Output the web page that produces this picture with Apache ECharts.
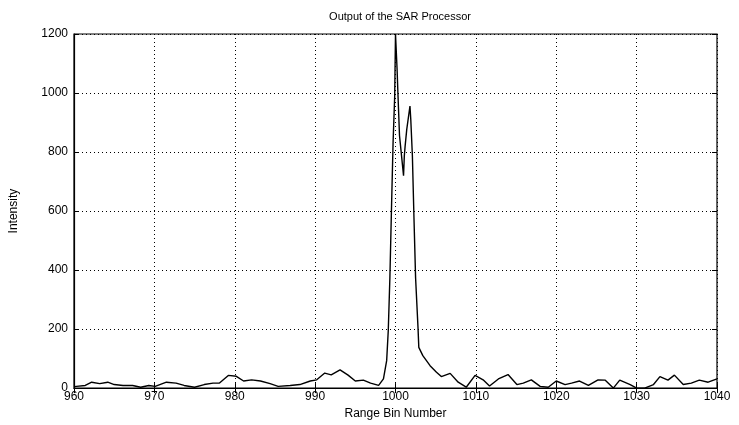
<!DOCTYPE html>
<html>
<head>
<meta charset="utf-8">
<script src="https://cdn.jsdelivr.net/npm/echarts@6/dist/echarts.min.js"></script>
<style>html,body{margin:0;padding:0;background:#fff}#c{width:739px;height:425px}</style>
</head>
<body>
<div id="c"></div>
<script>
const title = "Output of the SAR Processor";
const xName = "Range Bin Number";
const yName = "Intensity";
const xTicks = [960, 970, 980, 990, 1000, 1010, 1020, 1030, 1040];
const yTicks = [0, 200, 400, 600, 800, 1000, 1200];
const bins = [960, 960.3, 961.4, 962.2, 963.2, 964.2, 965.0, 966.1, 967.3, 968.3, 969.3, 970.1, 971.5, 972.7, 973.7, 975.0, 976.2, 977.3, 978.1, 979.2, 980.2, 981.1, 982.1, 983.2, 984.4, 985.4, 986.9, 988.1, 989.4, 990.2, 991.2, 992.0, 993.1, 994.1, 995.0, 996.0, 996.9, 997.9, 998.5, 998.9, 999.1, 999.3, 999.5, 999.7, 999.9, 1000.0, 1000.2, 1000.3, 1000.5, 1001.0, 1001.1, 1001.2, 1001.4, 1001.8, 1001.9, 1002.1, 1002.3, 1002.5, 1002.8, 1002.9, 1003.4, 1004.3, 1005.1, 1005.7, 1006.8, 1007.8, 1008.8, 1009.9, 1010.9, 1011.7, 1012.8, 1014.0, 1015.1, 1015.9, 1016.9, 1018.0, 1019.0, 1020.0, 1021.1, 1021.9, 1022.9, 1024.0, 1025.2, 1026.1, 1027.1, 1027.9, 1029.2, 1030.0, 1031.0, 1032.1, 1032.9, 1033.9, 1034.7, 1035.8, 1036.8, 1037.8, 1038.9, 1040];
const intensity = [5, 6, 9, 20, 15, 20, 12, 9, 9, 3, 9, 6, 20, 17, 9, 3, 12, 17, 17, 43, 40, 24, 28, 24, 15, 6, 9, 12, 24, 28, 51, 45, 62, 44, 24, 27, 17, 9, 31, 93, 195, 373, 608, 834, 989, 1200, 1079, 1000, 855, 720, 788, 821, 877, 956, 911, 788, 575, 373, 205, 138, 110, 76, 54, 39, 50, 20, 3, 43, 28, 7, 31, 46, 12, 17, 28, 6, 3, 24, 12, 17, 24, 9, 28, 27, 0, 27, 12, 0, 0, 12, 39, 27, 44, 12, 17, 27, 20, 31];

const data = bins.map((b, i) => [b, intensity[i]]);
const font = "Liberation Sans";
const chart = echarts.init(document.getElementById('c'), null, {renderer: 'canvas'});
const gridLine = {show: true, lineStyle: {color: '#000', type: [1, 3], width: 1}};
const plain = v => String(v);
chart.setOption({
  animation: false,
  backgroundColor: '#fff',
  title: {text: title, left: 395, textAlign: 'center', top: 6,
    textStyle: {fontFamily: font, fontSize: 11, fontWeight: 'normal', color: '#000'}},
  grid: {left: 74, right: 22, top: 34, bottom: 34, show: true, borderColor: '#000', borderWidth: 1.2},
  xAxis: [{
    type: 'value', min: 960, max: 1040, interval: 10,
    name: xName, nameLocation: 'middle', nameGap: 18,
    nameTextStyle: {fontFamily: font, fontSize: 12, color: '#000'},
    axisLine: {show: true, onZero: false, lineStyle: {color: '#000', width: 1.2}},
    axisTick: {show: true, inside: true, length: 5, lineStyle: {color: '#000'}},
    axisLabel: {fontFamily: font, fontSize: 12, color: '#000', margin: 3, formatter: plain},
    splitLine: gridLine
  }, {
    type: 'value', position: 'top', min: 960, max: 1040, interval: 10,
    axisLine: {show: false}, axisTick: {show: true, inside: true, length: 5, lineStyle: {color: '#000'}},
    axisLabel: {show: false}, splitLine: {show: false}
  }],
  yAxis: [{
    type: 'value', min: 0, max: 1200, interval: 200,
    name: yName, nameLocation: 'middle', nameGap: 54,
    nameTextStyle: {fontFamily: font, fontSize: 12, color: '#000'},
    axisLine: {show: true, lineStyle: {color: '#000', width: 1.2}},
    axisTick: {show: true, inside: true, length: 5, lineStyle: {color: '#000'}},
    axisLabel: {fontFamily: font, fontSize: 12, color: '#000', margin: 6, formatter: plain},
    splitLine: gridLine
  }, {
    type: 'value', position: 'right', min: 0, max: 1200, interval: 200,
    axisLine: {show: false}, axisTick: {show: true, inside: true, length: 5, lineStyle: {color: '#000'}},
    axisLabel: {show: false}, splitLine: {show: false}
  }],
  series: [{
    type: 'line', data: data, xAxisIndex: 0, yAxisIndex: 0,
    showSymbol: false, symbol: 'none',
    lineStyle: {color: '#000', width: 1.4}
  }]
});
</script>
</body>
</html>
